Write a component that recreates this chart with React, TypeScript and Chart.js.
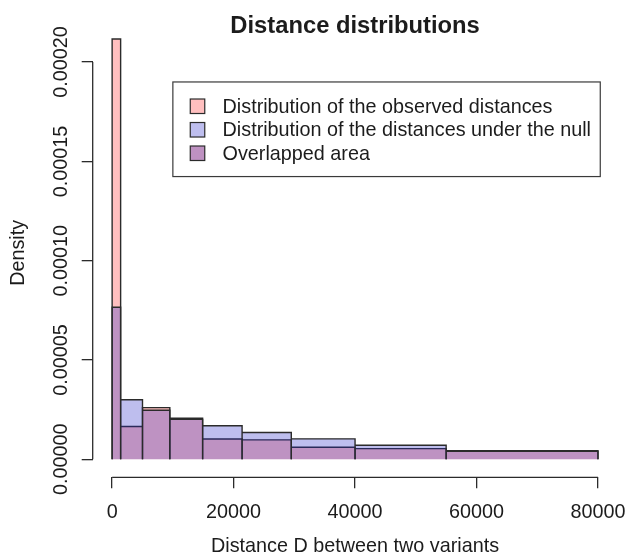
import React, { useEffect, useRef } from 'react';
import { Chart, registerables } from 'chart.js';

Chart.register(...registerables);

// ---- data ----
const chartTitle = 'Distance distributions';
const xAxisTitle = 'Distance D between two variants';
const yAxisTitle = 'Density';
const binEdges = [0, 1400, 5000, 9500, 14900, 21400, 29500, 40000, 55000, 80000];
const observedDensity = [0.0002116, 0.0000165, 0.000026, 0.0000207, 0.0000102, 0.0000098, 0.0000061, 0.0000054, 0.0000043];
const nullDensity = [0.0000766, 0.00003, 0.0000247, 0.0000201, 0.0000169, 0.0000135, 0.0000103, 0.0000071, 0.000004];
const xTicks = [0, 20000, 40000, 60000, 80000];
const yTicks = [0, 0.00005, 0.0001, 0.00015, 0.0002];
const yTickLabels = ['0.00000', '0.00005', '0.00010', '0.00015', '0.00020'];
const legendLabels = [
  'Distribution of the observed distances',
  'Distribution of the distances under the null',
  'Overlapped area',
];
const legendAnchor = { x: 10000, y: 0.00019 };

// ---- styles ----
const OBS_FILL = 'rgba(255,0,0,0.25)';
const NULL_FILL = 'rgba(40,40,200,0.3)';
const LINE = '#2b2b2b';
const TEXT = '#1c1c1c';
const FONT = '"Liberation Sans", Arial, Helvetica, sans-serif';
const BASE = 19.8;

function histPoints(edges: number[], dens: number[]) {
  const pts: { x: number; y: number }[] = [];
  for (let i = 0; i < dens.length; i++) {
    pts.push({ x: edges[i], y: 0 });
    pts.push({ x: edges[i], y: dens[i] });
    pts.push({ x: edges[i + 1], y: dens[i] });
    pts.push({ x: edges[i + 1], y: 0 });
  }
  return pts;
}

const rDecor = {
  id: 'rDecor',
  afterDraw(chart: any) {
    const ctx = chart.ctx as CanvasRenderingContext2D;
    const xs = chart.scales.x;
    const ys = chart.scales.y;
    const ca = chart.chartArea;
    ctx.save();
    ctx.strokeStyle = LINE;
    ctx.lineWidth = 1.3;
    ctx.lineCap = 'butt';
    // x axis line
    ctx.beginPath();
    ctx.moveTo(xs.getPixelForValue(xTicks[0]), ca.bottom);
    ctx.lineTo(xs.getPixelForValue(xTicks[xTicks.length - 1]), ca.bottom);
    ctx.stroke();
    // y axis line
    ctx.beginPath();
    ctx.moveTo(ca.left, ys.getPixelForValue(yTicks[0]));
    ctx.lineTo(ca.left, ys.getPixelForValue(yTicks[yTicks.length - 1]));
    ctx.stroke();

    // rotated y tick labels
    ctx.fillStyle = TEXT;
    ctx.font = `${BASE}px ${FONT}`;
    ctx.textAlign = 'center';
    ctx.textBaseline = 'middle';
    yTicks.forEach((v, i) => {
      const py = ys.getPixelForValue(v);
      ctx.save();
      ctx.translate(62, py);
      ctx.rotate(-Math.PI / 2);
      ctx.fillText(yTickLabels[i], 0, 0);
      ctx.restore();
    });

    // main title
    ctx.font = `bold ${BASE * 1.2}px ${FONT}`;
    ctx.fillText(chartTitle, (ca.left + ca.right) / 2, 26);

    // legend
    const lx = xs.getPixelForValue(legendAnchor.x);
    const ly = ys.getPixelForValue(legendAnchor.y);
    const lw = 427.4;
    const lh = 94.6;
    ctx.lineWidth = 1.2;
    ctx.strokeStyle = '#3a3a3a';
    ctx.strokeRect(lx, ly, lw, lh);
    const fills = [[OBS_FILL], [NULL_FILL], [OBS_FILL, NULL_FILL]];
    ctx.font = `${BASE}px ${FONT}`;
    ctx.textAlign = 'left';
    legendLabels.forEach((lab, i) => {
      const cy = ly + 24.3 + i * 23.5;
      const sx = lx + 17.4;
      const s = 14.5;
      ctx.fillStyle = '#ffffff';
      ctx.fillRect(sx, cy - s / 2, s, s);
      fills[i].forEach((f) => {
        ctx.fillStyle = f;
        ctx.fillRect(sx, cy - s / 2, s, s);
      });
      ctx.strokeStyle = LINE;
      ctx.lineWidth = 1.2;
      ctx.strokeRect(sx, cy - s / 2, s, s);
      ctx.fillStyle = TEXT;
      ctx.fillText(lab, lx + 49.7, cy + 1);
    });
    ctx.restore();
  },
};

export default function App() {
  const canvasRef = useRef<HTMLCanvasElement | null>(null);

  useEffect(() => {
    const canvas = canvasRef.current;
    if (!canvas) return;
    const chart = new Chart(canvas, {
      type: 'scatter',
      data: {
        datasets: [
          {
            label: legendLabels[1],
            data: histPoints(binEdges, nullDensity),
            showLine: true,
            fill: 'origin',
            backgroundColor: NULL_FILL,
            borderColor: LINE,
            borderWidth: 1.4,
            pointRadius: 0,
            tension: 0,
            borderJoinStyle: 'miter',
            order: 1,
          },
          {
            label: legendLabels[0],
            data: histPoints(binEdges, observedDensity),
            showLine: true,
            fill: 'origin',
            backgroundColor: OBS_FILL,
            borderColor: LINE,
            borderWidth: 1.4,
            pointRadius: 0,
            tension: 0,
            borderJoinStyle: 'miter',
            order: 2,
          },
        ],
      },
      options: {
        animation: false,
        responsive: false,
        devicePixelRatio: 1,
        layout: { padding: { left: 0, right: 9.6, top: 28.4, bottom: 0 } },
        plugins: {
          legend: { display: false },
          tooltip: { enabled: false },
          title: { display: false },
        },
        scales: {
          x: {
            type: 'linear',
            min: -3200,
            max: 83200,
            afterBuildTicks: (s: any) => {
              s.ticks = xTicks.map((v) => ({ value: v }));
            },
            afterFit: (s: any) => {
              s.height = 82.7;
              s.paddingLeft = 0;
              s.paddingRight = 0;
            },
            grid: { drawOnChartArea: false, drawTicks: true, tickLength: 11, color: LINE, lineWidth: 1.3 },
            border: { display: false },
            ticks: {
              color: TEXT,
              font: { family: FONT, size: BASE },
              padding: 12.5,
              maxRotation: 0,
              minRotation: 0,
              callback: (v: any) => String(v),
            },
            title: {
              display: true,
              text: xAxisTitle,
              color: TEXT,
              font: { family: FONT, size: BASE },
              padding: { top: 0, bottom: 1.3 },
            },
          },
          y: {
            type: 'linear',
            min: -0.00000906,
            max: 0.00021697,
            afterBuildTicks: (s: any) => {
              s.ticks = yTicks.map((v) => ({ value: v }));
            },
            afterFit: (s: any) => {
              s.width = 92.7;
              s.paddingTop = 0;
              s.paddingBottom = 0;
            },
            grid: { drawOnChartArea: false, drawTicks: true, tickLength: 11, color: LINE, lineWidth: 1.3 },
            border: { display: false },
            ticks: { display: false },
            title: {
              display: true,
              text: yAxisTitle,
              color: TEXT,
              font: { family: FONT, size: BASE },
              padding: { top: 6.6, bottom: 0 },
            },
          },
        },
      },
      plugins: [rDecor],
    } as any);
    return () => chart.destroy();
  }, []);

  return (
    <div style={{ position: 'fixed', left: 0, top: 0, width: 627, height: 560, background: '#fff' }}>
      <canvas ref={canvasRef} width={627} height={560} style={{ display: 'block', width: 627, height: 560 }} />
    </div>
  );
}
